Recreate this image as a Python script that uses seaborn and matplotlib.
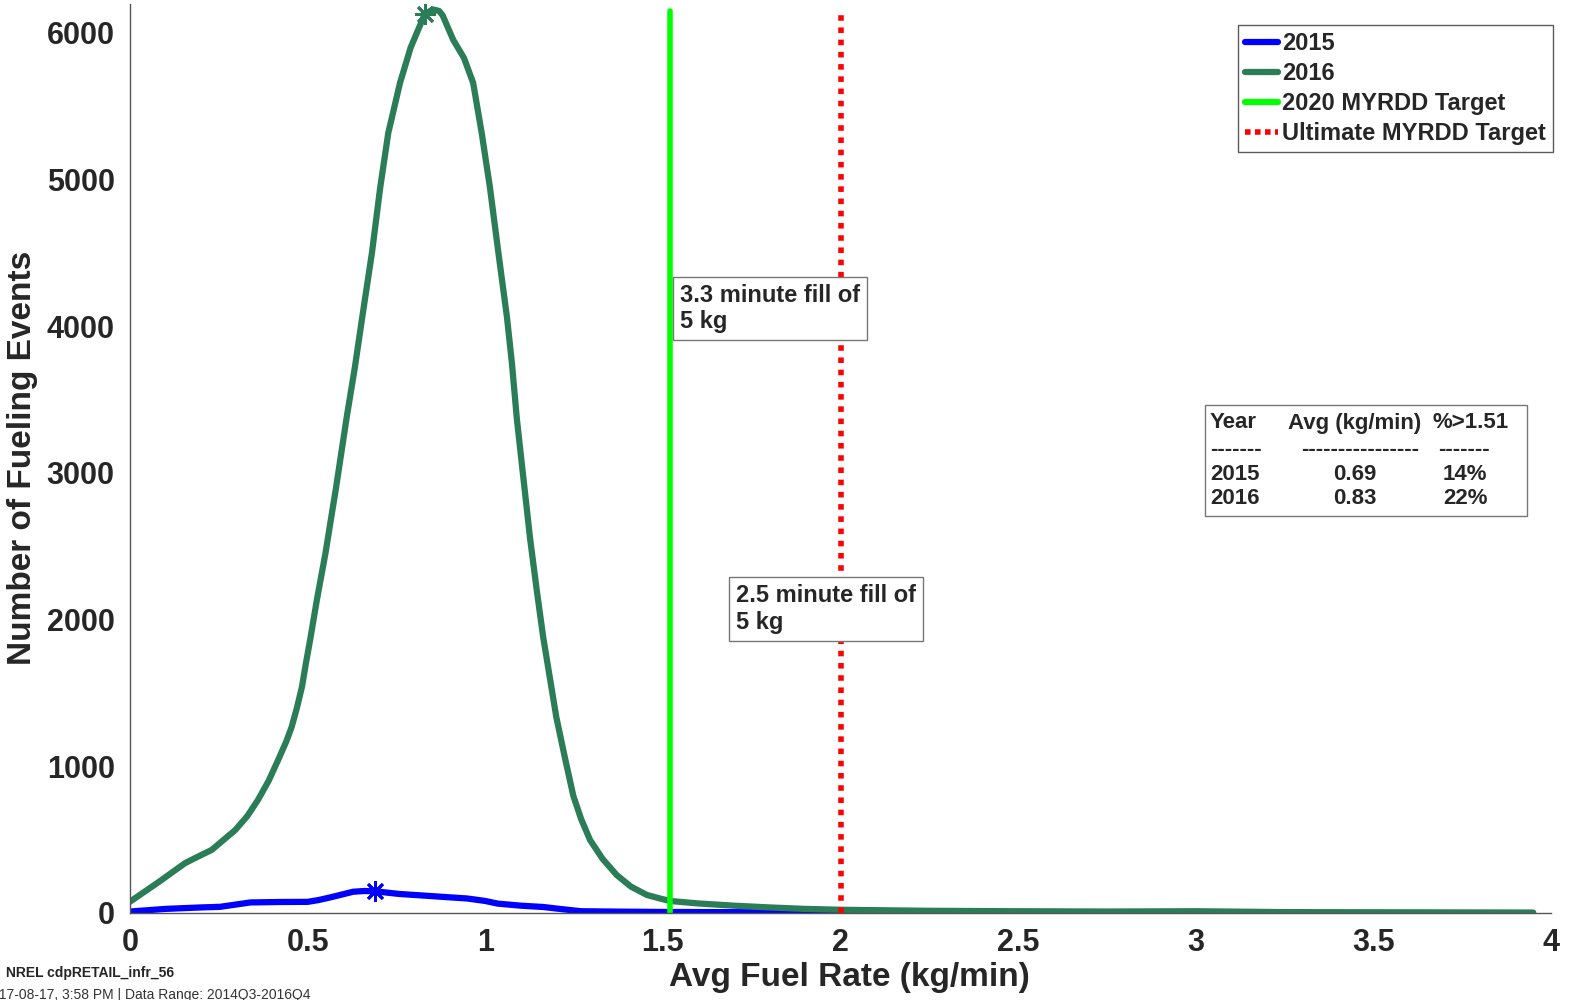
import pandas as pd
import seaborn as sns
import matplotlib.pyplot as plt
from matplotlib.patches import Rectangle

# 2016 curve
rate_2016 = [0, 0.08, 0.155, 0.196, 0.23, 0.296, 0.33, 0.36, 0.39, 0.417, 0.44, 0.455, 0.47,
             0.484, 0.495, 0.507, 0.526, 0.55, 0.58, 0.61, 0.633, 0.653,
             0.681, 0.704, 0.727, 0.76, 0.79, 0.83, 0.853, 0.87, 0.88, 0.91, 0.94, 0.966, 0.99,
             1.013, 1.036, 1.061, 1.075, 1.089, 1.126, 1.145, 1.163, 1.2, 1.225, 1.248, 1.27,
             1.295, 1.33, 1.37, 1.41, 1.455, 1.49, 1.52, 1.6, 1.7, 1.8, 1.9,
             2.0, 2.25, 2.5, 2.75, 3.0, 3.25, 3.5, 3.75, 3.95]
count_2016 = [77, 210, 340, 390, 430, 565, 660, 770, 900, 1043, 1170, 1268, 1400,
              1541, 1700, 1861, 2134, 2450, 2900, 3380, 3720, 4050,
              4500, 4940, 5318, 5659, 5900, 6130, 6160, 6150, 6120, 5952, 5830, 5659, 5318,
              4950, 4520, 4064, 3750, 3368, 2557, 2200, 1882, 1336, 1050, 798, 640,
              498, 370, 259, 180, 123, 100, 82, 65, 50, 38, 28,
              22, 15, 12, 10, 12, 6, 5, 4, 3]

# 2015 curve
rate_2015 = [0, 0.1, 0.2, 0.253, 0.339, 0.42, 0.5, 0.53, 0.563, 0.6, 0.628, 0.66, 0.69, 0.757,
             0.85, 0.949, 1.0, 1.035, 1.1, 1.163, 1.22, 1.27, 1.35, 1.5, 2.0, 2.5, 3.1]
count_2015 = [10, 28, 38, 42, 72, 75, 76, 88, 106, 128, 145, 150, 148, 130,
              115, 99, 82, 64, 50, 41, 25, 12, 10, 7, 4, 2, 1]

peak_2015 = (0.69, 148)
peak_2016 = (0.83, 6130)

target_2020 = 1.52
target_ultimate = 2.0
target_top = 6150

years = ['2015', '2016']
avg_rate = ['0.69', '0.83']
pct_above = ['14%', '22%']

curves = pd.DataFrame({
    'rate': rate_2015 + rate_2016,
    'count': count_2015 + count_2016,
    'year': ['2015'] * len(rate_2015) + ['2016'] * len(rate_2016),
})

sns.set_style('white')
plt.rcParams['font.family'] = ['Liberation Sans', 'DejaVu Sans']
plt.rcParams['font.weight'] = 'bold'

fig = plt.figure(figsize=(15.69, 10), dpi=100)
ax = fig.add_axes([130 / 1569, 0.087, 1421 / 1569, 0.9094])

blue = '#0000ff'
green = '#2b7d57'
lime = '#00ff00'
red = '#ff0000'

sns.lineplot(data=curves, x='rate', y='count', hue='year', palette={'2015': blue, '2016': green},
             linewidth=4.5, ax=ax, legend=False, estimator=None, sort=False)
for ln in ax.get_lines():
    ln.set_solid_joinstyle('round')
ax.plot([peak_2015[0]], [peak_2015[1]], marker=(8, 2, 0), markersize=15, mew=2, color=blue)
ax.plot([peak_2016[0]], [peak_2016[1]], marker=(8, 2, 0), markersize=15, mew=2, color=green)

ax.plot([target_2020, target_2020], [0, target_top], color=lime, linewidth=4)
ax.plot([target_ultimate, target_ultimate], [0, target_top], color=red, linewidth=4,
        linestyle=(0, (1, 1.2)), dash_capstyle='butt')

ax.set_xlim(0, 4)
ax.set_ylim(0, 6200)
ax.set_xticks([0, 0.5, 1, 1.5, 2, 2.5, 3, 3.5, 4])
ax.set_xticklabels(['0', '0.5', '1', '1.5', '2', '2.5', '3', '3.5', '4'])
ax.set_yticks([0, 1000, 2000, 3000, 4000, 5000, 6000])
ax.tick_params(direction='in', length=9, width=1, color='#444444', labelsize=22,
               labelcolor='#262626', pad=11)
for lbl in ax.get_xticklabels() + ax.get_yticklabels():
    lbl.set_fontweight('bold')
for s in ['top', 'right']:
    ax.spines[s].set_visible(False)
for s in ['left', 'bottom']:
    ax.spines[s].set_color('#555555')
    ax.spines[s].set_linewidth(1)

ax.set_xlabel('Avg Fuel Rate (kg/min)', fontsize=24, fontweight='bold', color='#262626')
ax.xaxis.set_label_coords(0.506, -0.054)
ax.set_ylabel('Number of Fueling Events', fontsize=24, fontweight='bold', color='#262626', labelpad=6)

handles = [
    plt.Line2D([], [], color=blue, linewidth=4.5),
    plt.Line2D([], [], color=green, linewidth=4.5),
    plt.Line2D([], [], color=lime, linewidth=4.5),
    plt.Line2D([], [], color=red, linewidth=4, linestyle=(0, (1, 0.8)), dash_capstyle='butt'),
]
leg = ax.legend(handles, ['2015', '2016', '2020 MYRDD Target', 'Ultimate MYRDD Target'],
                loc='upper right', bbox_to_anchor=(1.0014, 0.9765), borderaxespad=0,
                fontsize=17, frameon=True, fancybox=False, handlelength=1.4,
                handletextpad=0.15, labelspacing=0.3, borderpad=0.3)
leg.get_frame().set_edgecolor('#333333')
leg.get_frame().set_linewidth(1)
for t in leg.get_texts():
    t.set_fontweight('bold')

box = dict(boxstyle='square,pad=0.3', facecolor='white', edgecolor='#777777', linewidth=1)
ax.text(1.548, 4290, '3.3 minute fill of\n5 kg', fontsize=17, fontweight='bold', va='top',
        ha='left', bbox=box, linespacing=1.2)
ax.text(1.706, 2240, '2.5 minute fill of\n5 kg', fontsize=17, fontweight='bold', va='top',
        ha='left', bbox=box, linespacing=1.2)

# summary table
fig.patches.append(Rectangle((1205 / 1569, 1 - 516 / 1000), 322 / 1569, 111 / 1000,
                             transform=fig.transFigure, facecolor='white',
                             edgecolor='#777777', linewidth=1, zorder=5))
tk = dict(fontsize=16, fontweight='bold', va='center', zorder=6)
fig.text(1210 / 1569, 1 - 423 / 1000, 'Year', ha='left', **tk)
fig.text(1355 / 1569, 1 - 423 / 1000, 'Avg (kg/min)', ha='center', **tk)
fig.text(1471 / 1569, 1 - 423 / 1000, '%>1.51', ha='center', **tk)
fig.text(1210 / 1569, 1 - 449 / 1000, '-------', ha='left', **tk)
fig.text(1360 / 1569, 1 - 449 / 1000, '----------------', ha='center', **tk)
fig.text(1464 / 1569, 1 - 449 / 1000, '-------', ha='center', **tk)
for i, (yr, av, pc) in enumerate(zip(years, avg_rate, pct_above)):
    yy = 1 - (474 + 25 * i) / 1000
    fig.text(1210 / 1569, yy, yr, ha='left', **tk)
    fig.text(1355 / 1569, yy, av, ha='center', **tk)
    fig.text(1465 / 1569, yy, pc, ha='center', **tk)

fig.text(6 / 1569, 1 - 973 / 1000, 'NREL cdpRETAIL_infr_56', fontsize=10, fontweight='bold',
         va='center', ha='left')
fig.text(310 / 1569, 1 - 988 / 1000, 'Created: 2017-08-17, 3:58 PM | Data Range: 2014Q3-2016Q4',
         fontsize=10, fontweight='normal', va='top', ha='right', color='#333333')

fig.savefig('out.png', dpi=100)
